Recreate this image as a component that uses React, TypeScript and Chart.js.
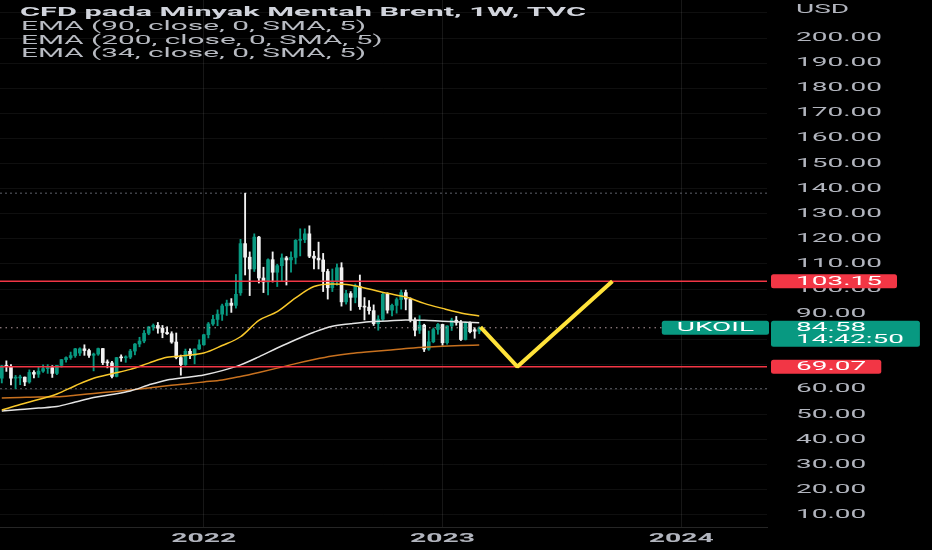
import React, { useEffect, useRef } from "react";
import { Chart, registerables } from "chart.js";

Chart.register(...registerables);

// ---------- data ----------
const weeks = [
  "2021-03-01","2021-03-08","2021-03-15","2021-03-22","2021-03-29","2021-04-05","2021-04-12","2021-04-19","2021-04-26",
  "2021-05-03","2021-05-10","2021-05-17","2021-05-24","2021-05-31","2021-06-07","2021-06-14","2021-06-21","2021-06-28",
  "2021-07-05","2021-07-12","2021-07-19","2021-07-26","2021-08-02","2021-08-09","2021-08-16","2021-08-23","2021-08-30",
  "2021-09-06","2021-09-13","2021-09-20","2021-09-27","2021-10-04","2021-10-11","2021-10-18","2021-10-25","2021-11-01",
  "2021-11-08","2021-11-15","2021-11-22","2021-11-29","2021-12-06","2021-12-13","2021-12-20","2021-12-27",
  "2022-01-03","2022-01-10","2022-01-17","2022-01-24","2022-01-31","2022-02-07","2022-02-14","2022-02-21","2022-02-28",
  "2022-03-07","2022-03-14","2022-03-21","2022-03-28","2022-04-04","2022-04-11","2022-04-18","2022-04-25","2022-05-02",
  "2022-05-09","2022-05-16","2022-05-23","2022-05-30","2022-06-06","2022-06-13","2022-06-20","2022-06-27","2022-07-04",
  "2022-07-11","2022-07-18","2022-07-25","2022-08-01","2022-08-08","2022-08-15","2022-08-22","2022-08-29","2022-09-05",
  "2022-09-12","2022-09-19","2022-09-26","2022-10-03","2022-10-10","2022-10-17","2022-10-24","2022-10-31","2022-11-07",
  "2022-11-14","2022-11-21","2022-11-28","2022-12-05","2022-12-12","2022-12-19","2022-12-26",
  "2023-01-02","2023-01-09","2023-01-16","2023-01-23","2023-01-30","2023-02-06","2023-02-13","2023-02-20","2023-02-27",
];

const opens = [
  64.5,69.4,69.2,64.5,64.6,64.9,63.0,66.8,66.1,
  67.3,68.3,68.7,66.4,69.6,71.9,72.7,73.5,74.5,
  76.2,75.5,73.6,74.1,76.3,70.7,70.6,65.2,72.7,
  72.6,72.9,75.3,78.1,79.3,82.4,84.9,85.5,84.4,
  82.7,82.2,78.9,72.7,69.9,75.2,73.5,76.1,
  77.8,81.8,86.1,87.9,90.0,93.3,94.4,93.5,98.5,
  118.1,112.7,108.0,120.7,104.4,102.8,111.7,106.7,109.3,
  112.4,111.6,112.6,119.4,119.7,122.0,113.1,112.3,111.6,
  107.0,100.5,103.2,108.5,94.9,98.2,96.7,101.0,93.0,
  92.8,91.4,86.2,88.0,97.9,91.6,93.5,95.8,98.6,
  96.0,87.6,83.6,85.6,76.1,79.0,83.9,
  85.9,78.6,85.3,87.6,86.7,79.9,86.4,83.8,83.2,
];
const highs = [
  69.6,71.4,69.9,65.6,65.7,65.0,67.8,67.5,68.9,
  69.8,69.9,69.5,69.6,72.0,73.0,74.9,76.4,76.6,
  77.8,76.1,74.5,76.5,76.4,71.8,71.2,72.8,73.8,
  73.4,76.0,78.3,80.8,83.5,85.1,86.1,86.7,85.5,
  85.0,83.0,82.5,73.7,76.1,76.2,76.2,79.8,
  82.0,86.7,89.5,91.7,94.0,95.6,96.2,105.8,119.8,
  138.2,114.8,122.0,121.0,108.7,112.0,114.8,109.9,114.0,
  113.0,114.8,119.7,124.0,124.0,125.2,115.0,118.7,114.2,
  107.9,108.0,110.0,110.5,99.5,99.0,102.0,105.6,96.6,
  95.4,93.7,89.4,98.7,98.5,94.0,96.5,99.6,99.6,
  96.5,88.5,89.4,86.0,83.3,84.5,86.3,
  86.0,85.4,88.4,89.1,87.5,86.9,86.9,84.6,85.0,
];
const lows = [
  62.6,67.2,61.8,60.3,61.9,61.5,62.5,64.6,64.8,
  66.8,66.4,64.8,65.9,68.9,70.9,72.0,72.8,73.5,
  73.6,72.8,67.4,73.6,69.9,68.6,64.6,65.0,71.2,
  70.8,72.3,73.8,77.0,78.6,81.8,83.6,82.4,80.6,
  81.9,78.4,72.2,65.7,69.6,72.3,70.2,75.9,
  77.6,80.5,85.5,85.4,87.5,89.5,90.7,92.4,97.5,
  105.6,97.4,107.0,102.4,98.6,97.7,102.8,101.0,103.0,
  101.6,106.7,110.0,113.2,118.5,112.5,108.0,108.0,99.0,
  96.0,99.0,101.5,93.2,94.0,91.5,94.5,91.9,87.7,
  90.0,85.5,83.6,87.5,90.4,89.3,90.4,92.0,91.7,
  86.9,81.3,82.3,75.1,75.6,78.6,82.0,
  77.6,78.0,83.5,85.6,79.5,79.7,82.5,80.4,82.2,
];
const closes = [
  69.4,69.2,64.5,64.6,64.9,63.0,66.8,66.1,67.3,
  68.3,68.7,66.4,69.6,71.9,72.7,73.5,76.2,76.2,
  75.5,73.6,74.1,76.3,70.7,70.6,65.2,72.7,72.6,
  72.9,75.3,78.1,79.3,82.4,84.9,85.5,84.4,82.7,
  82.2,78.9,72.7,69.9,75.2,73.5,76.1,77.8,
  81.8,86.1,87.9,90.0,93.3,94.4,93.5,97.9,118.1,
  112.7,108.0,120.7,104.4,102.8,111.7,106.7,109.3,112.4,
  111.6,112.6,119.4,119.7,122.0,113.1,112.3,111.6,107.0,
  100.5,103.2,108.5,94.9,98.2,96.7,101.0,93.0,92.8,
  91.4,86.2,88.0,97.9,91.6,93.5,95.8,98.6,96.0,
  87.6,83.6,85.6,76.1,79.0,83.9,85.9,
  78.6,85.3,87.6,86.7,79.9,86.4,83.0,83.2,84.58,
];

// EMA values read every 4th week
const emaWeeks = weeks.filter((_, i) => i % 4 === 0);
const ema34 = [51.8,54,56,58.2,61.5,64.5,66.3,68,70.5,72.8,73.5,74.5,77.5,81,87.5,91,96.5,101,102,101.6,100,98.3,96.8,94.3,92.3,90.5,89.3];
const ema90 = [51.4,52,52.6,53.2,55,56.8,58,59.4,61.8,63.8,64.8,65.8,67.5,69.8,73,76.5,79.8,82.8,85.2,86.2,87,87.3,87.7,87.6,87.2,86.9,86.6];
const ema200 = [56.6,56.8,57,57.1,57.7,58.4,59.1,59.8,60.6,61.5,62.2,63,63.8,65.2,66.8,68.5,70.3,71.9,73.3,74.3,75,75.6,76.3,76.8,77.2,77.5,77.7];

const levels = [103.15, 69.07];
const projectionWeeks = ["2023-03-01", "2023-04-26", "2023-09-18"];
const projectionValues = [84.8, 69.07, 103.15];

const yearTicks = [
  { label: "2022", week: "2022-01-03" },
  { label: "2023", week: "2023-01-02" },
  { label: "2024", week: "2024-01-01" },
];
const priceTicks = [10,20,30,40,50,60,70,80,90,100,110,120,130,140,150,160,170,180,190,200,210];

const symbol = "UKOIL";
const countdown = "14:42:50";
const currency = "USD";
const title = "CFD pada Minyak Mentah Brent, 1W, TVC";
const legendLines = [
  "EMA (90, close, 0, SMA, 5)",
  "EMA (200, close, 0, SMA, 5)",
  "EMA (34, close, 0, SMA, 5)",
];

// ---------- helpers ----------
const WEEK_MS = 7 * 24 * 3600 * 1000;
const ORIGIN = Date.parse("2022-01-03");
const wk = (d: string) => (Date.parse(d) - ORIGIN) / WEEK_MS;

const TEAL = "#089981";
const DOWN = "#f2f2f2";
const RED = "#f23645";
const AXIS_TEXT = "#b2b5be";
const FONT = "12px Roboto";
const BOLD = "bold 12px Roboto";

function drawText(ctx: CanvasRenderingContext2D, text: string, x: number, y: number, font: string, color: string, sx: number, align: "left" | "center" = "left") {
  ctx.save();
  ctx.font = font;
  ctx.fillStyle = color;
  ctx.textBaseline = "middle";
  ctx.textAlign = "left";
  const w = ctx.measureText(text).width * sx;
  const left = align === "center" ? x - w / 2 : x;
  ctx.translate(left, y);
  ctx.scale(sx, 1);
  ctx.fillText(text, 0, 0);
  ctx.restore();
  return w;
}
function textW(ctx: CanvasRenderingContext2D, text: string, font: string) {
  ctx.save();
  ctx.font = font;
  const w = ctx.measureText(text).width;
  ctx.restore();
  return w;
}
function box(ctx: CanvasRenderingContext2D, x: number, y: number, w: number, h: number, color: string) {
  ctx.save();
  ctx.fillStyle = color;
  ctx.beginPath();
  if ((ctx as any).roundRect) (ctx as any).roundRect(x, y, w, h, 2.5);
  else ctx.rect(x, y, w, h);
  ctx.fill();
  ctx.restore();
}

const overlay = {
  id: "overlay",
  beforeDraw(chart: any) {
    const { ctx, width, height } = chart;
    ctx.save();
    ctx.fillStyle = "#000000";
    ctx.fillRect(0, 0, width, height);
    ctx.restore();
  },
  afterDraw(chart: any) {
    const ctx: CanvasRenderingContext2D = chart.ctx;
    const ys = chart.scales.y;
    const xs = chart.scales.x;
    const area = chart.chartArea;
    const axisSx = 86 / textW(ctx, "200.00", FONT);
    const labelX = area.right + 29;
    const last = closes[closes.length - 1];
    const boxedY = [...levels, last].map((v) => ys.getPixelForValue(v));

    priceTicks.forEach((v) => {
      if (v > 200) return;
      const y = ys.getPixelForValue(v);
      if (boxedY.some((b) => Math.abs(b - y) < 5)) return;
      drawText(ctx, v.toFixed(2), labelX, y, FONT, AXIS_TEXT, axisSx);
    });
    drawText(ctx, currency, labelX, 10, FONT, AXIS_TEXT, axisSx);

    const yearSx = 65 / textW(ctx, "2022", BOLD);
    yearTicks.forEach((t) => {
      drawText(ctx, t.label, xs.getPixelForValue(wk(t.week)), area.bottom + 12, BOLD, AXIS_TEXT, yearSx, "center");
    });

    // level labels
    const boxLeft = area.right + 4;
    levels.forEach((v) => {
      const y = ys.getPixelForValue(v);
      const s = v.toFixed(2);
      const w = textW(ctx, s, FONT) * axisSx;
      box(ctx, boxLeft, y - 7, labelX + w + 15 - boxLeft, 14, RED);
      drawText(ctx, s, labelX, y + 0.5, FONT, "#ffffff", axisSx);
    });

    // last price label
    const yp = ys.getPixelForValue(last);
    const wTime = textW(ctx, countdown, FONT) * axisSx;
    box(ctx, boxLeft, yp - 7, labelX + wTime + 16 - boxLeft, 26, TEAL);
    drawText(ctx, last.toFixed(2), labelX, yp + 0.5, FONT, "#ffffff", axisSx);
    drawText(ctx, countdown, labelX, yp + 12.5, FONT, "#ffffff", axisSx);
    const wSym = textW(ctx, symbol, FONT) * axisSx;
    const symRight = area.right + 2;
    const symW = wSym + 30;
    box(ctx, symRight - symW, yp - 7, symW, 14, TEAL);
    drawText(ctx, symbol, symRight - symW / 2, yp + 0.5, FONT, "#ffffff", axisSx, "center");

    // title & legend
    const titleSx = 566 / textW(ctx, title, BOLD);
    drawText(ctx, title, 20, 13, BOLD, "#d1d4dc", titleSx);
    const legSx = 345 / textW(ctx, legendLines[0], FONT);
    legendLines.forEach((l, i) => {
      drawText(ctx, l, 21, 27 + i * 13.7, FONT, "#b8bbc2", legSx);
    });
  },
};

const X_MIN = -44.39;
const X_MAX = 122.68;
const Y_MIN = 5.22;
const Y_MAX = 215.14;

export default function App() {
  const ref = useRef<HTMLCanvasElement>(null);
  useEffect(() => {
    const canvas = ref.current;
    if (!canvas) return;
    const xv = weeks.map(wk);
    const colors = closes.map((c, i) => (c >= opens[i] ? TEAL : DOWN));
    const last = closes[closes.length - 1];
    const hi = Math.max(...highs);
    const lo = Math.min(...lows);
    const hline = (v: number) => [{ x: X_MIN, y: v }, { x: X_MAX, y: v }];
    const emaLine = (vals: number[], color: string, order: number) => ({
      type: "line" as const,
      data: emaWeeks.map((w, i) => ({ x: wk(w), y: vals[i] })),
      borderColor: color,
      borderWidth: 1.5,
      pointRadius: 0,
      cubicInterpolationMode: "monotone" as const,
      order,
    });

    const chart = new Chart(canvas, {
      type: "bar",
      data: {
        datasets: [
          {
            type: "line",
            data: hline(hi),
            borderColor: "#5f626b",
            borderWidth: 1,
            borderDash: [2, 3],
            pointRadius: 0,
            order: 20,
          },
          {
            type: "line",
            data: hline(lo),
            borderColor: "#5f626b",
            borderWidth: 1,
            borderDash: [2, 3],
            pointRadius: 0,
            order: 20,
          },
          {
            type: "bar",
            data: xv.map((x, i) => ({ x, y: [lows[i], highs[i]] })),
            backgroundColor: colors,
            barThickness: 1.2,
            grouped: false,
            order: 12,
          },
          {
            type: "bar",
            data: xv.map((x, i) => ({ x, y: [opens[i], closes[i]] })),
            backgroundColor: colors,
            barThickness: 3,
            minBarLength: 1,
            grouped: false,
            order: 11,
          },
          emaLine(ema200, "#c8711f", 8),
          emaLine(ema90, "#e4e4e4", 7),
          emaLine(ema34, "#f9c82a", 6),
          {
            type: "line",
            data: hline(last),
            borderColor: "#b39a9e",
            borderWidth: 1,
            borderDash: [1.5, 4],
            pointRadius: 0,
            order: 5,
          },
          ...levels.map((v) => ({
            type: "line" as const,
            data: hline(v),
            borderColor: RED,
            borderWidth: 1.5,
            pointRadius: 0,
            order: 3,
          })),
          {
            type: "line",
            data: projectionWeeks.map((w, i) => ({ x: wk(w), y: projectionValues[i] })),
            borderColor: "#ffe33a",
            borderWidth: 4,
            borderJoinStyle: "bevel",
            pointRadius: 0,
            order: 1,
          },
        ] as any,
      },
      options: {
        animation: false,
        responsive: true,
        maintainAspectRatio: false,
        events: [],
        layout: { padding: 0 },
        plugins: { legend: { display: false }, tooltip: { enabled: false } },
        scales: {
          x: {
            type: "linear",
            min: X_MIN,
            max: X_MAX,
            offset: false,
            afterBuildTicks: (s: any) => {
              s.ticks = yearTicks.map((t) => ({ value: wk(t.week) }));
            },
            afterFit: (s: any) => {
              s.height = 23;
            },
            grid: { color: "rgba(255,255,255,0.09)", drawTicks: false, offset: false },
            border: { display: true, color: "#262626" },
            ticks: { display: false },
          },
          y: {
            type: "linear",
            position: "right",
            min: Y_MIN,
            max: Y_MAX,
            afterBuildTicks: (s: any) => {
              s.ticks = priceTicks.map((v) => ({ value: v }));
            },
            afterFit: (s: any) => {
              s.width = 165;
            },
            grid: { color: "rgba(255,255,255,0.06)", drawTicks: false },
            border: { display: false },
            ticks: { display: false },
          },
        },
      } as any,
      plugins: [overlay],
    });
    return () => chart.destroy();
  }, []);

  return (
    <div style={{ position: "fixed", left: 0, top: 0, width: 932, height: 550, background: "#000" }}>
      <canvas ref={ref} />
    </div>
  );
}
